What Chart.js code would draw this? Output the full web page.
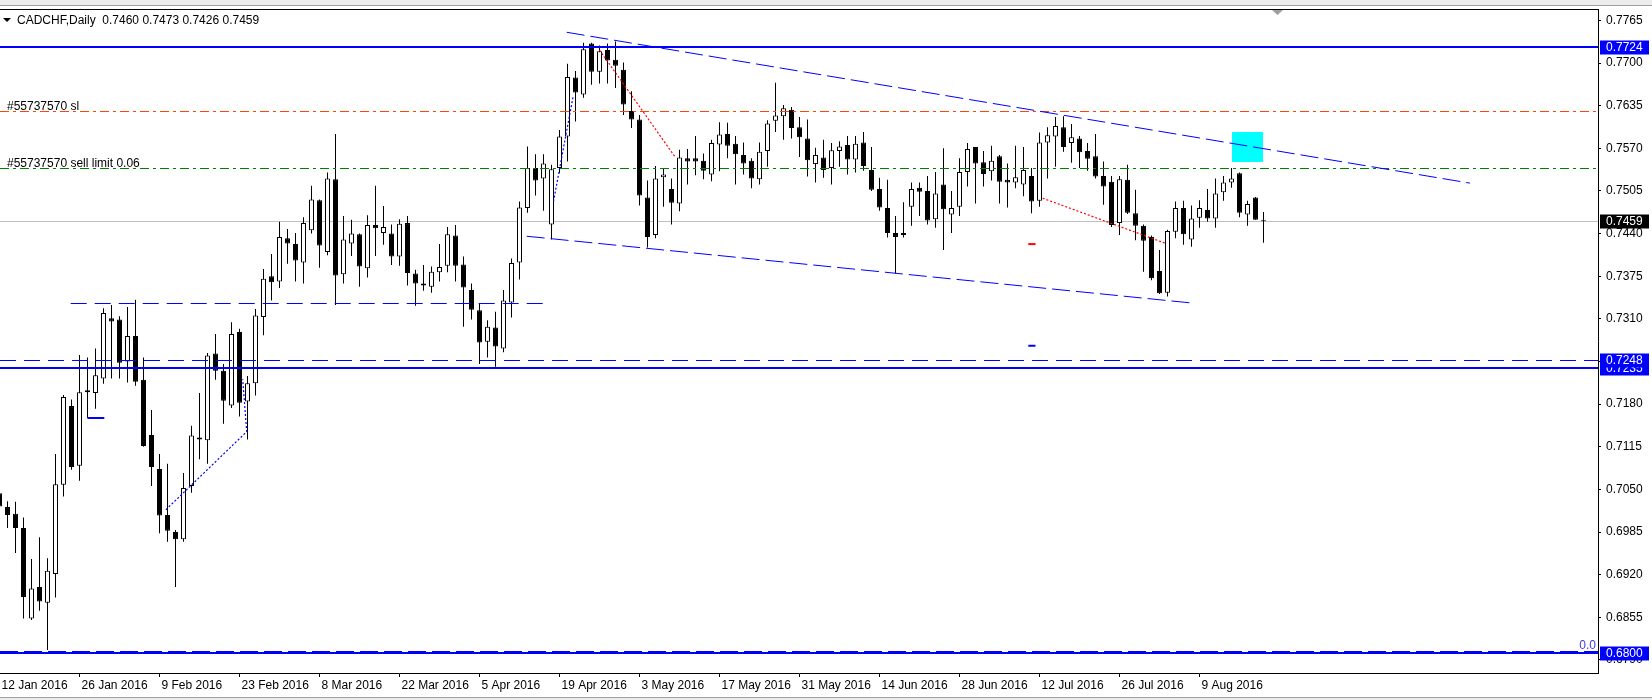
<!DOCTYPE html>
<html>
<head>
<meta charset="utf-8">
<title>CADCHF, Daily</title>
<script src="https://cdn.jsdelivr.net/npm/chart.js@4"></script>
<style>
  html, body { margin: 0; padding: 0; background: #fff; }
</style>
</head>
<body>
<canvas id="chart" width="1652" height="700"></canvas>
<script>
// CADCHF Daily - candles (bar index 0 = 12 Jan 2016)
const opens = [
  0.7044, 0.7023, 0.7013, 0.6991, 0.6853, 0.6901, 0.6877, 0.6921, 0.7057, 0.7177,
  0.7086, 0.7201, 0.7197, 0.7219, 0.7311, 0.7309, 0.7245, 0.7284, 0.7217, 0.7133,
  0.7081, 0.7011, 0.6985, 0.6974, 0.7055, 0.7129, 0.7125, 0.7257, 0.7231, 0.7178,
  0.7290, 0.7184, 0.7212, 0.7313, 0.7375, 0.7367, 0.7433, 0.7424, 0.7396, 0.7445,
  0.7491, 0.7412, 0.7523, 0.7378, 0.7425, 0.7439, 0.7387, 0.7453, 0.7441, 0.7440,
  0.7405, 0.7456, 0.7379, 0.7364, 0.7359, 0.7381, 0.7391, 0.7437, 0.7393, 0.7354,
  0.7323, 0.7275, 0.7297, 0.7265, 0.7335, 0.7396, 0.7479, 0.7540, 0.7524, 0.7454,
  0.7540, 0.7588, 0.7678, 0.7652, 0.7730, 0.7687, 0.7720, 0.7705, 0.7690, 0.7627,
  0.7614, 0.7495, 0.7438, 0.7526, 0.7508, 0.7486, 0.7555, 0.7555, 0.7551, 0.7530,
  0.7576, 0.7592, 0.7577, 0.7560, 0.7551, 0.7523, 0.7566, 0.7612, 0.7619, 0.7629,
  0.7602, 0.7585, 0.7546, 0.7556, 0.7540, 0.7566, 0.7575, 0.7553, 0.7579, 0.7537,
  0.7508, 0.7479, 0.7441, 0.7441, 0.7481, 0.7510, 0.7505, 0.7462, 0.7515, 0.7469,
  0.7481, 0.7534, 0.7572, 0.7549, 0.7535, 0.7558, 0.7522, 0.7518, 0.7515, 0.7528,
  0.7490, 0.7579, 0.7588, 0.7602, 0.7578, 0.7585, 0.7566, 0.7558, 0.7528, 0.7519,
  0.7456, 0.7522, 0.7471, 0.7452, 0.7435, 0.7383, 0.7350, 0.7443, 0.7479, 0.7431,
  0.7464, 0.7476, 0.7463, 0.7503, 0.7518, 0.7532, 0.7469, 0.7495, 0.7460,
];
const highs = [
  0.7052, 0.7032, 0.7031, 0.7007, 0.6944, 0.6977, 0.6945, 0.7104, 0.7194, 0.7187,
  0.7255, 0.7251, 0.7265, 0.7326, 0.7331, 0.7314, 0.7328, 0.7339, 0.7251, 0.7171,
  0.7104, 0.7089, 0.6988, 0.7075, 0.7147, 0.7197, 0.7258, 0.7287, 0.7241, 0.7305,
  0.7295, 0.7223, 0.7325, 0.7386, 0.7409, 0.7458, 0.7447, 0.7441, 0.7465, 0.7513,
  0.7492, 0.7533, 0.7592, 0.7467, 0.7461, 0.7440, 0.7468, 0.7513, 0.7482, 0.7454,
  0.7462, 0.7467, 0.7385, 0.7392, 0.7390, 0.7424, 0.7450, 0.7453, 0.7405, 0.7364,
  0.7334, 0.7308, 0.7321, 0.7354, 0.7402, 0.7489, 0.7573, 0.7561, 0.7561, 0.7545,
  0.7598, 0.7699, 0.7688, 0.7731, 0.7731, 0.7727, 0.7730, 0.7733, 0.7701, 0.7657,
  0.7621, 0.7521, 0.7543, 0.7540, 0.7524, 0.7568, 0.7569, 0.7589, 0.7562, 0.7583,
  0.7610, 0.7609, 0.7589, 0.7579, 0.7555, 0.7579, 0.7613, 0.7670, 0.7636, 0.7633,
  0.7618, 0.7614, 0.7571, 0.7583, 0.7578, 0.7581, 0.7589, 0.7589, 0.7595, 0.7572,
  0.7525, 0.7522, 0.7467, 0.7488, 0.7518, 0.7518, 0.7528, 0.7534, 0.7570, 0.7505,
  0.7555, 0.7578, 0.7572, 0.7566, 0.7574, 0.7560, 0.7547, 0.7574, 0.7572, 0.7540,
  0.7594, 0.7602, 0.7618, 0.7619, 0.7607, 0.7589, 0.7578, 0.7592, 0.7550, 0.7528,
  0.7528, 0.7545, 0.7507, 0.7454, 0.7437, 0.7415, 0.7446, 0.7489, 0.7490, 0.7483,
  0.7491, 0.7508, 0.7524, 0.7528, 0.7540, 0.7533, 0.7490, 0.7496, 0.7473,
];
const lows = [
  0.7003, 0.6991, 0.6953, 0.6853, 0.6851, 0.6865, 0.6805, 0.6885, 0.7039, 0.7080,
  0.7063, 0.7159, 0.7173, 0.7211, 0.7219, 0.7219, 0.7213, 0.7208, 0.7115, 0.7055,
  0.6983, 0.6970, 0.6901, 0.6970, 0.7045, 0.7096, 0.7089, 0.7217, 0.7150, 0.7174,
  0.7161, 0.7126, 0.7193, 0.7285, 0.7338, 0.7357, 0.7394, 0.7367, 0.7364, 0.7440,
  0.7388, 0.7407, 0.7331, 0.7364, 0.7406, 0.7359, 0.7373, 0.7406, 0.7423, 0.7392,
  0.7391, 0.7361, 0.7330, 0.7353, 0.7350, 0.7367, 0.7381, 0.7367, 0.7298, 0.7309,
  0.7241, 0.7251, 0.7237, 0.7259, 0.7312, 0.7370, 0.7472, 0.7498, 0.7475, 0.7431,
  0.7532, 0.7550, 0.7611, 0.7647, 0.7667, 0.7669, 0.7669, 0.7662, 0.7621, 0.7601,
  0.7483, 0.7419, 0.7433, 0.7481, 0.7454, 0.7474, 0.7515, 0.7529, 0.7523, 0.7520,
  0.7535, 0.7555, 0.7515, 0.7530, 0.7509, 0.7515, 0.7542, 0.7595, 0.7583, 0.7585,
  0.7557, 0.7527, 0.7518, 0.7525, 0.7515, 0.7542, 0.7530, 0.7533, 0.7536, 0.7505,
  0.7475, 0.7434, 0.7379, 0.7434, 0.7452, 0.7467, 0.7454, 0.7449, 0.7415, 0.7441,
  0.7467, 0.7512, 0.7486, 0.7512, 0.7521, 0.7486, 0.7480, 0.7509, 0.7497, 0.7471,
  0.7481, 0.7524, 0.7542, 0.7565, 0.7548, 0.7540, 0.7536, 0.7524, 0.7484, 0.7450,
  0.7438, 0.7470, 0.7430, 0.7382, 0.7369, 0.7348, 0.7344, 0.7433, 0.7423, 0.7420,
  0.7449, 0.7458, 0.7449, 0.7490, 0.7510, 0.7465, 0.7452, 0.7461, 0.7426,
];
const closes = [
  0.7024, 0.7011, 0.6991, 0.6886, 0.6899, 0.6879, 0.6926, 0.7058, 0.7191, 0.7084,
  0.7198, 0.7198, 0.7224, 0.7319, 0.7306, 0.7243, 0.7284, 0.7214, 0.7116, 0.7084,
  0.7010, 0.6987, 0.6974, 0.7052, 0.7132, 0.7126, 0.7254, 0.7231, 0.7185, 0.7287,
  0.7182, 0.7212, 0.7315, 0.7371, 0.7366, 0.7435, 0.7425, 0.7399, 0.7456, 0.7492,
  0.7422, 0.7524, 0.7376, 0.7431, 0.7440, 0.7390, 0.7453, 0.7448, 0.7450, 0.7405,
  0.7455, 0.7380, 0.7364, 0.7361, 0.7382, 0.7389, 0.7439, 0.7391, 0.7358, 0.7324,
  0.7274, 0.7298, 0.7268, 0.7338, 0.7395, 0.7480, 0.7540, 0.7521, 0.7547, 0.7538,
  0.7588, 0.7679, 0.7655, 0.7721, 0.7687, 0.7718, 0.7704, 0.7696, 0.7637, 0.7614,
  0.7498, 0.7435, 0.7524, 0.7530, 0.7487, 0.7556, 0.7550, 0.7550, 0.7536, 0.7578,
  0.7591, 0.7574, 0.7561, 0.7547, 0.7524, 0.7565, 0.7608, 0.7620, 0.7631, 0.7601,
  0.7587, 0.7552, 0.7560, 0.7537, 0.7567, 0.7573, 0.7553, 0.7577, 0.7543, 0.7507,
  0.7480, 0.7441, 0.7435, 0.7438, 0.7508, 0.7504, 0.7460, 0.7501, 0.7477, 0.7479,
  0.7534, 0.7569, 0.7547, 0.7531, 0.7551, 0.7519, 0.7518, 0.7526, 0.7537, 0.7489,
  0.7579, 0.7590, 0.7604, 0.7572, 0.7587, 0.7564, 0.7554, 0.7527, 0.7512, 0.7453,
  0.7523, 0.7472, 0.7452, 0.7429, 0.7372, 0.7349, 0.7444, 0.7479, 0.7439, 0.7463,
  0.7479, 0.7463, 0.7501, 0.7518, 0.7524, 0.7472, 0.7485, 0.7461, 0.7459,
];

// time axis: a label every 10 bars
const dateTickIndex = [0, 10, 20, 30, 40, 50, 60, 70, 80, 90, 100, 110, 120, 130, 140, 150];
const dateLabels = [
  "12 Jan 2016", "26 Jan 2016", "9 Feb 2016", "23 Feb 2016", "8 Mar 2016",
  "22 Mar 2016", "5 Apr 2016", "19 Apr 2016", "3 May 2016", "17 May 2016",
  "31 May 2016", "14 Jun 2016", "28 Jun 2016", "12 Jul 2016", "26 Jul 2016", "9 Aug 2016",
];
const priceTicks = [
  0.7765, 0.77, 0.7635, 0.757, 0.7505, 0.744, 0.7375, 0.731,
  0.7245, 0.718, 0.7115, 0.705, 0.6985, 0.692, 0.6855, 0.679,
];

// horizontal levels
const resistLevel = 0.7724;
const supportLevel = 0.7235;
const supportDashLevel = 0.7248;
const fiboLevel = 0.68;
const bidPrice = 0.7459;
const slPrice = 0.7627;
const sellLimitPrice = 0.754;

// drawn objects: [bar index, price]
const upperTrend = [[70.9, 0.7747], [183.8, 0.7517]];
const lowerTrend = [[65.9, 0.7436], [149.2, 0.7334]];
const rangeTop = [[8.9, 0.7334], [68.0, 0.7334]];
const smallLevel = [[11, 0.7159], [13.1, 0.7159]];
const blueDots1 = [[20.8, 0.7019], [30.9, 0.7138], [30.4, 0.7218]];
const blueDots2 = [[69.25, 0.7489], [71.7, 0.7649]];
const redDots1 = [[75.0, 0.772], [84.5, 0.7556]];
const redDots2 = [[130.4, 0.7494], [145.8, 0.7425]];
const redMark = [[128.6, 0.7424], [129.5, 0.7424]];
const blueMark = [[128.6, 0.7269], [129.5, 0.7269]];
const cyanBox = [[154.0, 0.7595], [157.9, 0.755]];

const FONT = "'Liberation Sans', Arial, sans-serif";
Chart.defaults.font.family = FONT;
Chart.defaults.font.size = 12;
Chart.defaults.color = "#000";

function strokePath(ctx, pts, color, width, dash) {
    ctx.save();
    ctx.strokeStyle = color;
    ctx.lineWidth = width;
    ctx.setLineDash(dash || []);
    ctx.beginPath();
    pts.forEach(([x, y], i) => (i ? ctx.lineTo(x, y) : ctx.moveTo(x, y)));
    ctx.stroke();
    ctx.restore();
}

// overlays: price lines, trend lines, labels
const overlay = {
    id: "overlay",
    beforeDraw(chart) {
        const ctx = chart.ctx;
        ctx.save();
        ctx.fillStyle = "#fff";
        ctx.fillRect(0, 0, chart.width, chart.height);
        ctx.fillStyle = "#ececec";
        ctx.fillRect(0, 0, chart.width, 5);
        ctx.fillRect(0, 697, chart.width, 3);
        ctx.fillStyle = "#a0a0a0";
        ctx.fillRect(0, 5, chart.width, 1);
        ctx.fillRect(0, 697, chart.width, 1);
        ctx.restore();
    },
    beforeDatasetsDraw(chart) {
        const { ctx, chartArea: a, scales: { x, y } } = chart;
        ctx.save();
        ctx.beginPath();
        ctx.rect(a.left, a.top, a.right - a.left, a.bottom - a.top);
        ctx.clip();
        // cyan box
        const bx1 = x.getPixelForValue(cyanBox[0][0]);
        const bx2 = x.getPixelForValue(cyanBox[1][0]);
        const by1 = y.getPixelForValue(cyanBox[0][1]);
        const by2 = y.getPixelForValue(cyanBox[1][1]);
        ctx.fillStyle = "#00ffff";
        ctx.fillRect(Math.round(bx1), Math.round(by1), Math.round(bx2 - bx1), Math.round(by2 - by1));
        // bid line
        const yb = Math.round(y.getPixelForValue(bidPrice)) + 0.5;
        strokePath(ctx, [[a.left, yb], [a.right, yb]], "#c0c0c0", 1);
        ctx.restore();
    },
    afterDatasetsDraw(chart) {
        const { ctx, chartArea: a, scales: { x, y } } = chart;
        const pt = (p) => [x.getPixelForValue(p[0]), y.getPixelForValue(p[1])];
        const yLine = (v) => Math.round(y.getPixelForValue(v)) + 0.5;
        ctx.save();
        ctx.beginPath();
        ctx.rect(a.left, a.top, a.right - a.left, a.bottom - a.top);
        ctx.clip();

        // order lines
        const ySl = yLine(slPrice);
        strokePath(ctx, [[a.left, ySl], [a.right, ySl]], "#ff4500", 1, [9, 4, 3, 4]);
        const ySell = yLine(sellLimitPrice);
        strokePath(ctx, [[a.left, ySell], [a.right, ySell]], "#008000", 1, [9, 4, 3, 4]);

        // solid levels
        const yR = Math.round(y.getPixelForValue(resistLevel));
        strokePath(ctx, [[a.left, yR], [a.right, yR]], "#0000ff", 2);
        const yS = Math.round(y.getPixelForValue(supportLevel));
        strokePath(ctx, [[a.left, yS], [a.right, yS]], "#0000ff", 2);
        const yD = yLine(supportDashLevel);
        strokePath(ctx, [[a.left, yD], [a.right, yD]], "#0000ff", 1, [16, 8]);
        const yF = Math.round(y.getPixelForValue(fiboLevel));
        strokePath(ctx, [[a.left, yF], [a.right, yF]], "#0000ff", 2);
        strokePath(ctx, [[a.left, yF - 1.5], [a.right, yF - 1.5]], "#0000ff", 1, [18, 6]);

        // trend lines and ranges
        strokePath(ctx, upperTrend.map(pt), "#0000ff", 1, [18, 6]);
        strokePath(ctx, lowerTrend.map(pt), "#0000ff", 1, [18, 6]);
        const yRange = yLine(rangeTop[0][1]);
        strokePath(ctx, rangeTop.map((p) => [x.getPixelForValue(p[0]), yRange]), "#0000ff", 1, [16, 8]);
        const ySmall = Math.round(y.getPixelForValue(smallLevel[0][1]));
        strokePath(ctx, smallLevel.map((p) => [x.getPixelForValue(p[0]), ySmall]), "#0000ff", 2);
        strokePath(ctx, blueDots1.map(pt), "#0000ff", 1.2, [2, 2]);
        strokePath(ctx, blueDots2.map(pt), "#0000ff", 1.2, [2, 2]);
        strokePath(ctx, redDots1.map(pt), "#ff0000", 1.2, [2, 2]);
        strokePath(ctx, redDots2.map(pt), "#ff0000", 1.2, [2, 2]);
        strokePath(ctx, redMark.map(pt), "#ff0000", 2);
        strokePath(ctx, blueMark.map(pt), "#0000ff", 2);

        // labels on the chart
        ctx.font = "12px " + FONT;
        ctx.textBaseline = "alphabetic";
        ctx.textAlign = "left";
        ctx.fillStyle = "#000";
        ctx.fillText("#55737570 sl", 7, ySl - 2);
        ctx.fillText("#55737570 sell limit 0.06", 7, ySell - 2);
        ctx.textAlign = "right";
        ctx.fillStyle = "#3c3cd6";
        ctx.fillText("0.0", a.right - 2, yF - 4);
        ctx.restore();
    },
    afterDraw(chart) {
        const { ctx, chartArea: a, scales: { y } } = chart;
        ctx.save();
        // frame top
        ctx.fillStyle = "#000";
        ctx.fillRect(0, a.top, a.right, 1);

        // symbol title
        ctx.beginPath();
        ctx.moveTo(3, 18);
        ctx.lineTo(11, 18);
        ctx.lineTo(7, 22);
        ctx.closePath();
        ctx.fill();
        ctx.font = "12px " + FONT;
        ctx.textAlign = "left";
        ctx.textBaseline = "alphabetic";
        ctx.fillText("CADCHF,Daily  0.7460 0.7473 0.7426 0.7459", 17, 24);

        // shift marker
        ctx.fillStyle = "#a0a0a0";
        ctx.beginPath();
        ctx.moveTo(1272, 10);
        ctx.lineTo(1283, 10);
        ctx.lineTo(1277.5, 15);
        ctx.closePath();
        ctx.fill();

        // price boxes on the axis
        const boxes = [
            [resistLevel, "#0000ff"],
            [bidPrice, "#000000"],
            [supportLevel, "#0000ff"],
            [supportDashLevel, "#0000ff"],
            [fiboLevel, "#0000ff"],
        ];
        ctx.textBaseline = "middle";
        boxes.forEach(([v, c]) => {
            const cy = Math.round(y.getPixelForValue(v)) + 0.5;
            ctx.fillStyle = c;
            ctx.fillRect(a.right + 2, cy - 7, 49, 14);
            ctx.fillStyle = "#fff";
            ctx.fillText(v.toFixed(4), a.right + 8, cy);
        });
        ctx.restore();
    },
};

const candleChart = new Chart(document.getElementById("chart"), {
    type: "bar",
    data: {
        datasets: [
            {
                label: "Body",
                data: opens.map((o, i) => ({ x: i, y: [o, closes[i]] })),
                backgroundColor: opens.map((o, i) => (closes[i] >= o ? "#ffffff" : "#000000")),
                borderColor: "#000000",
                borderWidth: 1,
                borderSkipped: false,
                barThickness: 5,
                minBarLength: 1,
                grouped: false,
                inflateAmount: 0,
                order: 0,
            },
            {
                label: "Wick",
                data: lows.map((l, i) => ({ x: i, y: [l, highs[i]] })),
                backgroundColor: "#000000",
                borderWidth: 0,
                barThickness: 1,
                grouped: false,
                inflateAmount: 0,
                order: 1,
            },
        ],
    },
    options: {
        responsive: false,
        devicePixelRatio: 1,
        animation: false,
        events: [],
        layout: { padding: { top: 9, left: 0, right: 0, bottom: 0 } },
        plugins: {
            legend: { display: false },
            tooltip: { enabled: false },
        },
        scales: {
            x: {
                type: "linear",
                bounds: "data",
                offset: false,
                min: 0.0625,
                max: 0.0625 + 1598 / 8,
                grid: { drawOnChartArea: false, drawTicks: true, tickLength: 4, color: "#000", offset: false },
                border: { display: true, color: "#000" },
                ticks: {
                    autoSkip: false,
                    maxRotation: 0,
                    align: "start",
                    labelOffset: 2,
                    padding: 1,
                    color: "#000",
                    font: { size: 12 },
                    callback: (v) => dateLabels[dateTickIndex.indexOf(v)] || "",
                },
                afterBuildTicks: (scale) => {
                    scale.ticks = dateTickIndex.map((v) => ({ value: v }));
                },
                afterFit: (scale) => {
                    scale.height = 27;
                    scale.paddingLeft = 0;
                    scale.paddingRight = 0;
                },
            },
            y: {
                type: "linear",
                position: "right",
                bounds: "data",
                beginAtZero: false,
                min: 0.677,
                max: 0.77825,
                grid: { drawOnChartArea: false, drawTicks: true, tickLength: 3, color: "#000" },
                border: { display: true, color: "#000" },
                ticks: {
                    autoSkip: false,
                    padding: 5,
                    color: "#000",
                    font: { size: 12 },
                    callback: (v) => v.toFixed(4),
                },
                afterBuildTicks: (scale) => {
                    scale.ticks = priceTicks.map((v) => ({ value: v }));
                },
                afterFit: (scale) => {
                    scale.width = 54;
                    scale.paddingTop = 0;
                    scale.paddingBottom = 0;
                },
            },
        },
    },
    plugins: [overlay],
});
</script>
</body>
</html>
